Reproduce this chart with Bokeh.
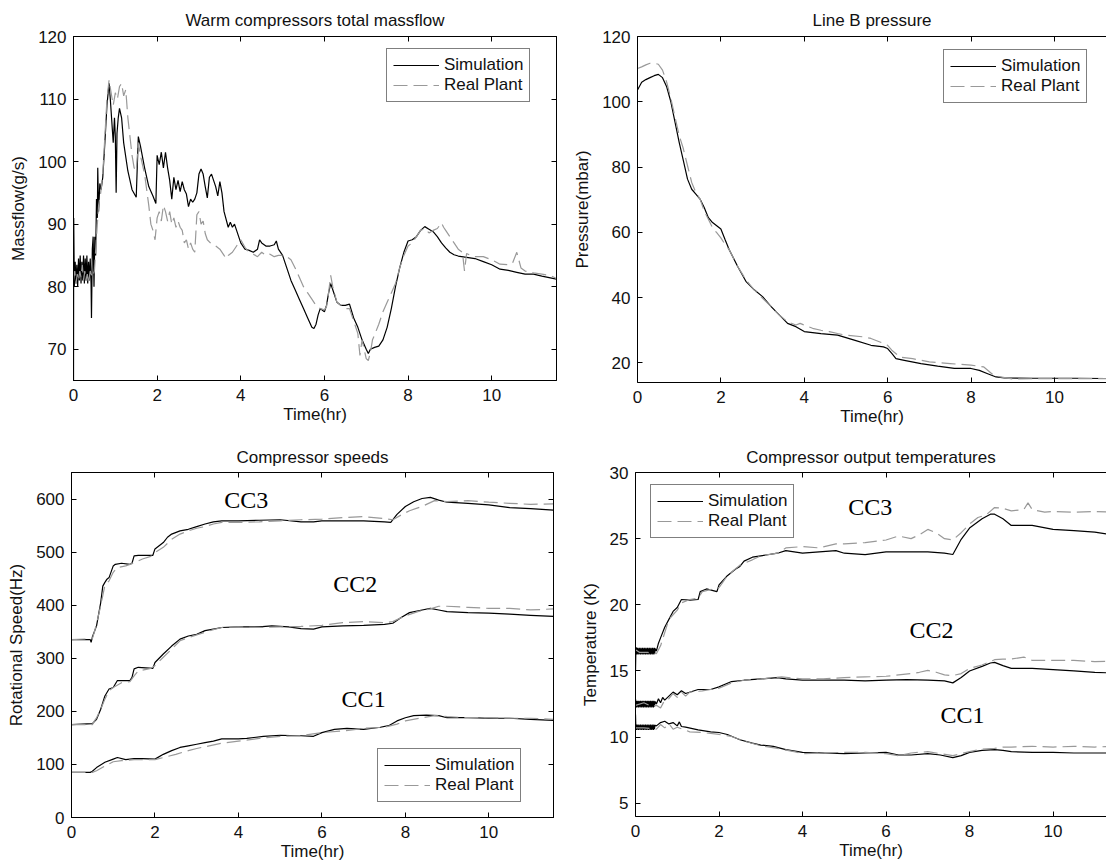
from bokeh.plotting import figure
from bokeh.layouts import row, column
from bokeh.models import Range1d, LinearAxis, Legend, LegendItem, FixedTicker, Label
from bokeh.embed import file_html
from bokeh.resources import INLINE

# ---------------- data (time in hr, value) ----------------
mf_sim = [(0.00, 64.0), (0.005, 91.0), (0.02, 80.0), (0.04, 84.0), (0.06, 80.5), (0.08, 83.5), (0.10, 80.0),
          (0.12, 84.5), (0.14, 81.0), (0.16, 85.0), (0.18, 80.5), (0.20, 84.0), (0.22, 81.0), (0.24, 85.0),
          (0.26, 80.5), (0.28, 84.5), (0.30, 81.0), (0.32, 85.0), (0.34, 80.5), (0.36, 84.0), (0.38, 81.0),
          (0.40, 84.5), (0.42, 80.5), (0.43, 75.0), (0.45, 86.0), (0.47, 88.0), (0.49, 80.0), (0.51, 88.0),
          (0.53, 85.0), (0.55, 94.0), (0.57, 91.0), (0.58, 99.0), (0.60, 92.0), (0.63, 96.5), (0.66, 95.5),
          (0.70, 97.5), (0.75, 103.0), (0.80, 109.0), (0.85, 112.5), (0.88, 110.0), (0.92, 106.0), (0.95, 103.0),
          (0.98, 107.0), (1.00, 104.0), (1.02, 95.0), (1.04, 104.5), (1.07, 107.0), (1.10, 108.5), (1.15, 107.0),
          (1.20, 103.0), (1.30, 98.5), (1.40, 95.5), (1.50, 94.3), (1.55, 104.0), (1.60, 102.5), (1.70, 99.0),
          (1.80, 96.0), (1.90, 94.5), (1.97, 93.3), (2.00, 101.0), (2.05, 99.5), (2.10, 101.5), (2.15, 99.0),
          (2.20, 101.5), (2.25, 99.0), (2.30, 97.0), (2.35, 94.0), (2.40, 97.5), (2.45, 95.5), (2.50, 97.0),
          (2.55, 95.2), (2.60, 96.8), (2.65, 95.5), (2.70, 94.8), (2.75, 92.8), (2.80, 94.0), (2.85, 93.5),
          (2.90, 94.0), (2.95, 95.0), (3.00, 98.0), (3.05, 98.8), (3.10, 98.0), (3.15, 96.0), (3.20, 94.2),
          (3.25, 97.5), (3.30, 98.0), (3.35, 97.0), (3.40, 96.0), (3.45, 94.5), (3.50, 96.8), (3.55, 95.0),
          (3.60, 92.0), (3.70, 89.5), (3.75, 90.3), (3.80, 89.5), (3.85, 90.0), (3.90, 89.0), (4.00, 87.0),
          (4.10, 86.0), (4.20, 85.8), (4.30, 85.5), (4.40, 86.0), (4.45, 87.5), (4.50, 87.0), (4.60, 86.5),
          (4.70, 86.5), (4.80, 86.7), (4.85, 87.3), (4.90, 86.0), (5.00, 85.0), (5.10, 83.0), (5.20, 81.0),
          (5.30, 79.5), (5.40, 78.0), (5.50, 76.5), (5.60, 75.0), (5.70, 73.5), (5.75, 73.3), (5.80, 74.0),
          (5.85, 75.5), (5.90, 76.5), (6.00, 76.0), (6.05, 77.0), (6.10, 79.0), (6.15, 80.5), (6.20, 79.5),
          (6.30, 77.5), (6.40, 77.0), (6.50, 77.0), (6.60, 77.2), (6.70, 75.0), (6.80, 73.5), (6.90, 71.5),
          (7.00, 70.0), (7.05, 69.3), (7.10, 70.0), (7.20, 70.3), (7.30, 70.5), (7.40, 71.5), (7.50, 73.5),
          (7.60, 76.5), (7.70, 80.0), (7.80, 83.0), (7.90, 85.5), (8.00, 87.3), (8.10, 87.5), (8.20, 88.0),
          (8.30, 89.0), (8.40, 89.6), (8.50, 89.2), (8.60, 88.8), (8.70, 88.0), (8.80, 87.0), (8.90, 86.2),
          (9.00, 85.5), (9.10, 85.1), (9.20, 84.9), (9.40, 84.7), (9.60, 84.5), (9.80, 84.0), (10.00, 83.5),
          (10.20, 82.8), (10.40, 82.6), (10.60, 82.3), (10.80, 82.0), (11.00, 82.0), (11.20, 81.7), (11.55, 81.2)]

mf_real = [(0.00, 81.0), (0.03, 82.5), (0.06, 80.5), (0.09, 82.0), (0.12, 81.0), (0.15, 82.5), (0.18, 81.5),
           (0.21, 83.5), (0.24, 81.0), (0.27, 82.5), (0.30, 81.0), (0.33, 82.0), (0.36, 80.5), (0.40, 82.5),
           (0.45, 81.5), (0.50, 82.5), (0.55, 88.0), (0.60, 93.0), (0.65, 95.0), (0.70, 98.0), (0.75, 104.0),
           (0.80, 110.0), (0.85, 113.0), (0.90, 111.0), (0.95, 109.0), (1.00, 111.0), (1.05, 110.0), (1.10, 112.0),
           (1.15, 112.5), (1.20, 110.5), (1.25, 111.5), (1.30, 107.0), (1.35, 104.0), (1.40, 101.0), (1.45, 99.0),
           (1.50, 98.5), (1.55, 103.0), (1.60, 101.0), (1.70, 98.0), (1.80, 93.0), (1.85, 90.0), (1.90, 89.0),
           (1.95, 87.5), (2.00, 91.0), (2.05, 92.0), (2.10, 90.5), (2.15, 93.0), (2.20, 92.0), (2.25, 90.5),
           (2.30, 92.0), (2.35, 90.0), (2.40, 91.0), (2.45, 89.5), (2.50, 90.5), (2.55, 89.5), (2.60, 89.0),
           (2.65, 87.0), (2.70, 87.5), (2.75, 86.0), (2.80, 87.0), (2.85, 86.0), (2.90, 85.5), (2.95, 91.5),
           (3.00, 92.0), (3.05, 90.0), (3.10, 90.5), (3.15, 88.5), (3.20, 87.5), (3.30, 86.8), (3.40, 86.5),
           (3.50, 86.0), (3.60, 85.0), (3.65, 84.5), (3.70, 85.0), (3.80, 85.5), (3.90, 86.5), (4.00, 87.5),
           (4.10, 86.3), (4.20, 85.5), (4.30, 85.2), (4.40, 84.8), (4.50, 85.5), (4.60, 85.0), (4.70, 85.2),
           (4.80, 84.8), (4.90, 85.0), (5.00, 85.0), (5.10, 84.8), (5.20, 84.3), (5.30, 83.0), (5.40, 81.5),
           (5.50, 80.0), (5.60, 79.0), (5.70, 78.0), (5.80, 77.0), (5.90, 76.5), (6.00, 76.3), (6.05, 76.8),
           (6.10, 79.0), (6.15, 81.8), (6.20, 80.0), (6.30, 77.5), (6.40, 77.0), (6.50, 76.5), (6.60, 76.5),
           (6.70, 74.5), (6.80, 72.5), (6.85, 69.0), (6.90, 71.5), (6.95, 70.0), (7.00, 68.5), (7.05, 68.2),
           (7.10, 69.5), (7.15, 71.5), (7.20, 72.3), (7.30, 74.0), (7.40, 76.0), (7.50, 77.5), (7.60, 79.0),
           (7.70, 80.5), (7.80, 83.0), (7.90, 85.0), (8.00, 86.5), (8.10, 87.0), (8.20, 88.0), (8.30, 89.0),
           (8.40, 89.3), (8.50, 88.6), (8.60, 89.0), (8.70, 89.3), (8.80, 90.2), (8.85, 89.5), (8.90, 89.0),
           (9.00, 88.0), (9.10, 87.0), (9.20, 86.0), (9.30, 85.5), (9.35, 82.5), (9.40, 85.3), (9.50, 85.0),
           (9.60, 84.8), (9.80, 84.8), (10.00, 84.3), (10.20, 83.6), (10.40, 83.5), (10.50, 83.8), (10.60, 85.5),
           (10.70, 83.0), (10.80, 82.5), (11.00, 82.2), (11.20, 82.0), (11.40, 81.8), (11.55, 81.3)]

pr_sim = [(0.0, 103.6), (0.1, 106.0), (0.2, 106.8), (0.3, 107.4), (0.4, 108.0), (0.5, 108.4), (0.6, 107.4),
          (0.7, 104.6), (0.8, 100.0), (0.9, 93.8), (1.0, 87.6), (1.1, 82.0), (1.2, 76.3), (1.3, 73.2),
          (1.4, 71.7), (1.5, 70.2), (1.6, 67.6), (1.7, 64.5), (1.8, 63.0), (1.9, 62.0), (2.0, 61.0),
          (2.1, 57.8), (2.2, 54.7), (2.4, 49.6), (2.6, 45.0), (2.8, 42.4), (3.0, 40.3), (3.2, 37.3),
          (3.4, 34.7), (3.6, 32.1), (3.8, 31.1), (4.0, 29.6), (4.4, 29.0), (4.8, 28.5), (5.2, 27.0),
          (5.6, 25.4), (5.9, 24.9), (6.0, 24.4), (6.1, 22.9), (6.2, 21.3), (6.4, 20.8), (6.8, 19.8),
          (7.2, 19.0), (7.6, 18.3), (8.0, 18.3), (8.2, 17.7), (8.4, 16.7), (8.6, 15.7), (8.8, 15.4),
          (9.5, 15.3), (10.5, 15.3), (11.4, 15.2)]

pr_real = [(0.0, 110.2), (0.1, 110.7), (0.2, 111.3), (0.3, 111.8), (0.4, 111.8), (0.5, 111.5), (0.6, 109.7),
           (0.7, 106.0), (0.8, 101.0), (0.9, 95.3), (1.0, 89.7), (1.1, 85.6), (1.2, 80.4), (1.3, 75.3),
           (1.4, 72.2), (1.5, 70.2), (1.6, 66.6), (1.7, 64.0), (1.8, 61.4), (1.9, 59.9), (2.0, 58.3),
           (2.1, 56.3), (2.2, 54.7), (2.4, 49.6), (2.6, 45.5), (2.8, 42.4), (3.0, 39.8), (3.2, 37.3),
           (3.4, 34.7), (3.6, 32.6), (3.8, 31.6), (3.9, 32.1), (4.0, 31.6), (4.2, 30.6), (4.4, 30.0),
           (4.6, 29.6), (4.8, 29.0), (5.0, 28.5), (5.4, 28.0), (5.6, 27.5), (5.8, 26.5), (6.0, 25.4),
           (6.1, 23.9), (6.3, 21.8), (6.6, 21.3), (7.0, 20.3), (7.5, 19.8), (8.0, 19.3), (8.3, 18.8),
           (8.5, 16.7), (8.7, 15.7), (9.0, 15.1), (10.0, 15.2), (11.4, 15.2)]

spd_cc3_sim = [(0.0, 335), (0.45, 335), (0.47, 330), (0.5, 340), (0.6, 361), (0.7, 405), (0.75, 436),
               (0.8, 443), (0.85, 449), (0.9, 452), (1.0, 474), (1.05, 477), (1.2, 479), (1.4, 477),
               (1.45, 479), (1.5, 493), (1.6, 494), (1.8, 494), (1.95, 494), (2.0, 506), (2.1, 512),
               (2.2, 518), (2.3, 528), (2.4, 534), (2.6, 540), (2.8, 543), (3.0, 548), (3.2, 553),
               (3.4, 557), (3.6, 559), (4.0, 559), (4.5, 560), (5.0, 561), (5.5, 557), (5.8, 557),
               (6.0, 559), (6.5, 559), (7.0, 559), (7.5, 557), (7.65, 556), (7.8, 571), (8.0, 586),
               (8.2, 595), (8.4, 601), (8.6, 603), (8.8, 598), (9.0, 594), (9.5, 592), (10.0, 589),
               (10.5, 584), (11.0, 582), (11.55, 579)]
spd_cc3_real = [(0.0, 335), (0.5, 337), (0.55, 350), (0.6, 365), (0.7, 399), (0.8, 437), (0.9, 446),
                (1.0, 462), (1.1, 471), (1.3, 474), (1.4, 477), (1.5, 480), (1.7, 487), (1.9, 492),
                (2.0, 499), (2.2, 509), (2.4, 524), (2.6, 534), (2.8, 540), (3.0, 545), (3.2, 548),
                (3.4, 553), (3.6, 556), (4.0, 556), (4.5, 557), (5.0, 559), (5.5, 561), (6.0, 562),
                (6.5, 565), (7.0, 567), (7.5, 563), (7.7, 561), (7.9, 570), (8.1, 578), (8.4, 586),
                (8.7, 597), (9.0, 595), (9.5, 597), (10.0, 594), (10.5, 592), (11.0, 590), (11.55, 591)]
spd_cc2_sim = [(0.0, 175), (0.5, 177), (0.6, 185), (0.7, 204), (0.8, 229), (0.9, 242), (1.0, 245),
               (1.1, 258), (1.4, 258), (1.45, 264), (1.5, 280), (1.6, 283), (1.95, 281), (2.0, 292),
               (2.2, 308), (2.4, 323), (2.6, 336), (2.8, 342), (3.0, 345), (3.2, 352), (3.4, 355),
               (3.6, 358), (4.0, 359), (4.5, 359), (4.8, 361), (5.2, 359), (5.5, 356), (5.8, 355),
               (6.0, 359), (6.5, 361), (7.0, 362), (7.5, 364), (7.7, 366), (7.9, 377), (8.1, 386),
               (8.4, 391), (8.6, 394), (8.8, 391), (9.0, 388), (9.5, 386), (10.0, 385), (10.5, 383),
               (11.0, 381), (11.55, 379)]
spd_cc2_real = [(0.0, 175), (0.5, 175), (0.55, 182), (0.6, 188), (0.7, 204), (0.8, 223), (0.9, 239),
                (1.0, 245), (1.2, 254), (1.4, 256), (1.5, 267), (1.6, 276), (1.9, 281), (2.0, 286),
                (2.2, 302), (2.4, 317), (2.6, 333), (2.8, 339), (3.0, 344), (3.2, 349), (3.4, 354),
                (3.6, 358), (4.0, 359), (4.5, 358), (5.0, 359), (5.5, 360), (6.0, 362), (6.5, 367),
                (7.0, 369), (7.5, 367), (7.7, 369), (8.0, 380), (8.3, 388), (8.6, 393), (8.8, 398),
                (9.0, 398), (9.5, 396), (10.0, 394), (10.5, 394), (11.0, 391), (11.55, 393)]
spd_cc1_sim = [(0.0, 85), (0.45, 85), (0.5, 87), (0.6, 94), (0.8, 104), (1.0, 110), (1.1, 113),
               (1.3, 109), (1.5, 111), (1.7, 111), (2.0, 110), (2.2, 119), (2.4, 126), (2.6, 132),
               (2.8, 135), (3.0, 138), (3.2, 141), (3.4, 144), (3.6, 148), (4.0, 148), (4.2, 149),
               (4.6, 153), (5.0, 155), (5.5, 154), (5.8, 153), (6.0, 160), (6.3, 166), (6.6, 168),
               (7.0, 166), (7.4, 170), (7.6, 173), (7.8, 182), (8.0, 188), (8.2, 192), (8.5, 193),
               (8.8, 192), (9.0, 188), (9.5, 188), (10.0, 187), (10.5, 187), (11.0, 185), (11.55, 183)]
spd_cc1_real = [(0.0, 85), (0.5, 85), (0.6, 88), (0.8, 97), (1.0, 105), (1.2, 107), (1.5, 109),
                (2.0, 109), (2.2, 113), (2.5, 119), (2.8, 126), (3.0, 130), (3.3, 135), (3.6, 140),
                (4.0, 144), (4.5, 149), (5.0, 153), (5.5, 154), (6.0, 160), (6.5, 163), (7.0, 168),
                (7.5, 170), (7.8, 176), (8.0, 182), (8.4, 188), (8.7, 192), (9.0, 190), (9.5, 188),
                (10.0, 188), (10.5, 187), (11.0, 187), (11.55, 185)]

tmp_cc3_sim = [(0.0, 15.0), (0.01, 16.8), (0.02, 16.25), (0.03, 16.75), (0.04, 16.25), (0.05, 16.75),
               (0.06, 16.3), (0.07, 16.7), (0.08, 16.25), (0.09, 16.75), (0.10, 16.3), (0.11, 16.7),
               (0.12, 16.25), (0.13, 16.75), (0.14, 16.3), (0.15, 16.7), (0.16, 16.25), (0.17, 16.75),
               (0.18, 16.3), (0.19, 16.7), (0.20, 16.25), (0.21, 16.75), (0.22, 16.3), (0.23, 16.7),
               (0.24, 16.25), (0.25, 16.75), (0.26, 16.3), (0.27, 16.7), (0.28, 16.25), (0.29, 16.75),
               (0.30, 16.3), (0.31, 16.7), (0.32, 16.25), (0.33, 16.75), (0.34, 16.3), (0.35, 16.7),
               (0.36, 16.25), (0.37, 16.75), (0.38, 16.3), (0.39, 16.7), (0.40, 16.25), (0.41, 16.75),
               (0.42, 16.3), (0.43, 16.7), (0.44, 16.25), (0.45, 16.75), (0.46, 16.3), (0.47, 16.7),
               (0.5, 16.5), (0.55, 17.1), (0.6, 17.5), (0.7, 18.3),
               (0.8, 18.9), (0.9, 19.5), (1.0, 19.8), (1.1, 20.4), (1.3, 20.35), (1.5, 20.4), (1.55, 21.0),
               (1.7, 21.2), (1.95, 21.0), (2.0, 21.5), (2.2, 22.2), (2.4, 22.7), (2.5, 22.9), (2.6, 23.3),
               (2.8, 23.6), (3.0, 23.7), (3.2, 23.8), (3.4, 23.9), (3.6, 24.1), (4.0, 23.9), (4.4, 24.0),
               (4.8, 24.1), (5.0, 23.9), (5.5, 23.8), (6.0, 24.0), (6.5, 24.0), (7.0, 24.0), (7.4, 23.9),
               (7.6, 23.8), (7.8, 24.95), (8.0, 25.8), (8.3, 26.5), (8.5, 26.85), (8.6, 26.85), (8.8, 26.5),
               (9.0, 26.0), (9.5, 26.0), (10.0, 25.7), (10.5, 25.6), (11.0, 25.5), (11.4, 25.3)]
tmp_cc3_real = [(0.0, 16.6), (0.1, 16.4), (0.3, 16.4), (0.5, 16.3), (0.6, 16.9), (0.7, 17.9), (0.8, 18.9),
                (1.0, 19.6), (1.1, 20.15), (1.3, 20.4), (1.5, 20.5), (1.6, 21.0), (2.0, 21.3), (2.2, 22.2),
                (2.5, 23.0), (2.8, 23.4), (3.0, 23.7), (3.4, 23.9), (3.6, 24.3), (4.0, 24.4), (4.4, 24.3),
                (4.8, 24.6), (5.0, 24.6), (5.5, 24.7), (6.0, 24.9), (6.3, 25.2), (6.6, 25.0), (6.8, 25.3),
                (7.0, 25.7), (7.2, 25.45), (7.4, 25.0), (7.6, 24.9), (7.8, 25.45), (8.0, 26.1), (8.2, 26.6),
                (8.4, 26.8), (8.6, 27.35), (8.8, 27.3), (9.0, 27.1), (9.3, 27.2), (9.4, 27.7), (9.5, 27.2),
                (9.8, 27.0), (10.0, 27.05), (10.5, 27.0), (11.0, 27.05), (11.4, 27.0)]
tmp_cc2_sim = [(0.0, 12.9), (0.01, 12.25), (0.02, 12.75), (0.03, 12.25), (0.04, 12.75), (0.05, 12.3),
               (0.06, 12.7), (0.07, 12.25), (0.08, 12.75), (0.09, 12.3), (0.10, 12.7), (0.11, 12.25),
               (0.12, 12.75), (0.13, 12.3), (0.14, 12.7), (0.15, 12.25), (0.16, 12.75), (0.17, 12.3),
               (0.18, 12.7), (0.19, 12.25), (0.20, 12.75), (0.21, 12.3), (0.22, 12.7), (0.23, 12.25),
               (0.24, 12.75), (0.25, 12.3), (0.26, 12.7), (0.27, 12.25), (0.28, 12.75), (0.29, 12.3),
               (0.30, 12.7), (0.31, 12.25), (0.32, 12.75), (0.33, 12.3), (0.34, 12.7), (0.35, 12.25),
               (0.36, 12.75), (0.37, 12.3), (0.38, 12.7), (0.39, 12.25), (0.40, 12.75), (0.41, 12.3),
               (0.42, 12.7), (0.43, 12.25), (0.44, 12.75), (0.45, 12.3), (0.47, 12.7), (0.5, 12.5),
               (0.55, 12.9), (0.6, 12.6), (0.65, 13.0), (0.7, 12.8), (0.8, 13.1), (0.9, 13.4), (1.0, 13.2),
               (1.1, 13.5), (1.2, 13.3), (1.5, 13.6), (1.8, 13.6), (2.0, 13.8),
               (2.3, 14.2), (2.6, 14.3), (3.0, 14.4), (3.4, 14.5), (3.6, 14.4), (4.0, 14.3), (4.5, 14.3),
               (5.0, 14.3), (5.5, 14.25), (6.0, 14.3), (6.5, 14.35), (7.0, 14.3), (7.4, 14.25), (7.6, 14.1),
               (7.8, 14.5), (8.0, 15.0), (8.3, 15.35), (8.5, 15.6), (8.6, 15.65), (8.8, 15.4), (9.0, 15.2),
               (9.5, 15.2), (10.0, 15.1), (10.5, 15.0), (11.0, 14.9), (11.4, 14.85)]
tmp_cc2_real = [(0.0, 12.4), (0.2, 12.6), (0.4, 12.3), (0.5, 12.4), (0.6, 12.2), (0.7, 12.8), (0.8, 12.9),
                (0.9, 13.3), (1.0, 13.0), (1.1, 13.4), (1.2, 13.1), (1.3, 13.4),
                (1.6, 13.5), (2.0, 13.7), (2.3, 14.1), (2.6, 14.3), (3.0, 14.4), (3.5, 14.55), (4.0, 14.4),
                (4.5, 14.4), (5.0, 14.5), (5.5, 14.55), (6.0, 14.6), (6.3, 14.7), (6.6, 14.8), (6.8, 14.9),
                (7.0, 15.05), (7.2, 14.9), (7.4, 14.7), (7.6, 14.65), (7.8, 14.8), (8.0, 15.2), (8.3, 15.45),
                (8.6, 15.85), (8.8, 15.9), (9.0, 15.9), (9.3, 16.05), (9.5, 15.8), (10.0, 15.8), (10.5, 15.8),
                (11.0, 15.7), (11.4, 15.75)]
tmp_cc1_sim = [(0.0, 11.7), (0.01, 10.55), (0.02, 10.95), (0.03, 10.55), (0.04, 10.95), (0.05, 10.6),
               (0.06, 10.9), (0.07, 10.55), (0.08, 10.95), (0.09, 10.6), (0.10, 10.9), (0.11, 10.55),
               (0.12, 10.95), (0.13, 10.6), (0.14, 10.9), (0.15, 10.55), (0.16, 10.95), (0.17, 10.6),
               (0.18, 10.9), (0.19, 10.55), (0.20, 10.95), (0.21, 10.6), (0.22, 10.9), (0.23, 10.55),
               (0.24, 10.95), (0.25, 10.6), (0.26, 10.9), (0.27, 10.55), (0.28, 10.95), (0.29, 10.6),
               (0.30, 10.9), (0.31, 10.55), (0.32, 10.95), (0.33, 10.6), (0.34, 10.9), (0.35, 10.55),
               (0.36, 10.95), (0.37, 10.6), (0.38, 10.9), (0.39, 10.55), (0.40, 10.95), (0.41, 10.6),
               (0.42, 10.9), (0.43, 10.55), (0.44, 10.95), (0.45, 10.6), (0.47, 10.9), (0.5, 10.85),
               (0.6, 11.1), (0.7, 11.2), (0.8, 11.0), (0.9, 11.1), (1.0, 10.85), (1.05, 11.15), (1.1, 10.8),
               (1.2, 10.75), (1.5, 10.55), (1.8, 10.4), (2.0, 10.35),
               (2.2, 10.2), (2.5, 9.8), (2.8, 9.55), (3.0, 9.4), (3.3, 9.3), (3.6, 9.05), (4.0, 8.85),
               (4.5, 8.8), (5.0, 8.75), (5.5, 8.8), (6.0, 8.85), (6.3, 8.65), (6.6, 8.65), (7.0, 8.75),
               (7.3, 8.65), (7.6, 8.45), (7.8, 8.6), (8.0, 8.85), (8.3, 9.0), (8.6, 9.05), (8.8, 9.0),
               (9.0, 8.9), (9.5, 8.85), (10.0, 8.85), (10.5, 8.8), (11.0, 8.8), (11.4, 8.8)]
tmp_cc1_real = [(0.0, 10.7), (0.2, 10.7), (0.5, 10.6), (0.6, 10.95), (0.7, 10.7), (0.8, 11.0), (0.9, 10.6),
                (1.0, 10.75), (1.3, 10.4), (1.6, 10.35),
                (2.0, 10.2), (2.3, 10.05), (2.6, 9.7), (3.0, 9.35), (3.4, 9.15), (3.8, 8.9), (4.0, 8.75),
                (4.5, 8.8), (5.0, 8.85), (5.5, 8.85), (6.0, 8.75), (6.3, 8.6), (6.6, 8.8), (7.0, 8.9),
                (7.3, 8.75), (7.6, 8.6), (7.8, 8.75), (8.0, 8.9), (8.3, 9.1), (8.6, 9.15), (8.8, 9.25),
                (9.0, 9.25), (9.5, 9.3), (10.0, 9.25), (10.5, 9.3), (11.0, 9.25), (11.4, 9.3)]

x_ticks = [0, 2, 4, 6, 8, 10]
mf_yticks = [70, 80, 90, 100, 110, 120]
pr_yticks = [20, 40, 60, 80, 100, 120]
spd_yticks = [0, 100, 200, 300, 400, 500, 600]
tmp_yticks = [5, 10, 15, 20, 25, 30]

SANS = "Liberation Sans"
SERIF = "Liberation Serif"
SIM_COLOR = "black"
REAL_COLOR = "#999999"
REAL_DASH = "14 6"


def style_axis(ax, ticks, labels=True):
    ax.axis_line_color = "black"
    ax.axis_line_width = 1
    ax.major_tick_line_color = "black"
    ax.major_tick_in = 5
    ax.major_tick_out = 0
    ax.minor_tick_line_color = None
    ax.major_label_text_font = SANS
    ax.major_label_text_color = "#111111"
    ax.axis_label_text_font = SANS
    ax.axis_label_text_font_size = "17px"
    ax.axis_label_text_font_style = "normal"
    ax.axis_label_text_color = "#111111"
    if labels:
        ax.major_label_text_font_size = "17px"
    else:
        ax.major_label_overrides = {t: "" for t in ticks}
        ax.major_label_text_font_size = "1px"
        ax.major_label_standoff = 0


def make_fig(title, ylabel, xr, yr, yticks, fw, fh, bl, br, bt, bb, boxed, tstand):
    p = figure(frame_width=fw, frame_height=fh, min_border_left=bl, min_border_right=br,
               min_border_top=bt, min_border_bottom=bb, x_range=Range1d(*xr), y_range=Range1d(*yr),
               output_backend="svg", toolbar_location=None, title=title)
    p.title.align = "center"
    p.title.text_font = SANS
    p.title.text_font_size = "17px"
    p.title.text_font_style = "normal"
    p.title.text_color = "#111111"
    p.title.standoff = tstand
    p.xgrid.visible = False
    p.ygrid.visible = False
    p.outline_line_color = "black" if boxed else None
    p.background_fill_color = "white"
    p.border_fill_color = "white"
    p.xaxis.ticker = FixedTicker(ticks=x_ticks)
    p.yaxis.ticker = FixedTicker(ticks=yticks)
    p.xaxis.axis_label = "Time(hr)"
    p.yaxis.axis_label = ylabel
    for ax in p.xaxis:
        style_axis(ax, x_ticks)
        ax.major_label_standoff = 8
        ax.axis_label_standoff = 1
    for ax in p.yaxis:
        style_axis(ax, yticks)
        ax.major_label_standoff = 7
        ax.axis_label_standoff = 7
    top = LinearAxis(ticker=FixedTicker(ticks=x_ticks))
    style_axis(top, x_ticks, labels=False)
    p.add_layout(top, "above")
    if boxed:
        right = LinearAxis(ticker=FixedTicker(ticks=yticks))
        style_axis(right, yticks, labels=False)
        p.add_layout(right, "right")
    return p


def draw_pair(p, sim, real):
    rs = p.line([a for a, b in sim], [b for a, b in sim], line_color=SIM_COLOR, line_width=1.2)
    rr = p.line([a for a, b in real], [b for a, b in real], line_color=REAL_COLOR, line_width=1.2,
                line_dash=REAL_DASH)
    return rs, rr


def add_legend(p, rs, rr, loc):
    lg = Legend(items=[LegendItem(label="Simulation", renderers=[rs]),
                       LegendItem(label="Real Plant", renderers=[rr])],
                location=loc, orientation="vertical")
    lg.label_text_font = SANS
    lg.label_text_font_size = "17px"
    lg.label_text_color = "#111111"
    lg.border_line_color = "black"
    lg.border_line_width = 1
    lg.background_fill_color = "white"
    lg.background_fill_alpha = 1
    lg.glyph_width = 46
    lg.glyph_height = 20
    lg.label_height = 20
    lg.label_standoff = 5
    lg.padding = 6
    lg.spacing = 0
    lg.margin = 0
    p.add_layout(lg)


def cc_label(p, x, y, text):
    p.add_layout(Label(x=x, y=y, text=text, text_font=SERIF, text_font_size="24px",
                       text_align="center", text_baseline="middle", text_color="black"))


# Top-left: massflow
p1 = make_fig("Warm compressors total massflow", "Massflow(g/s)", (0, 11.55), (65, 120), mf_yticks,
              483, 344, 73, 4, 36, 45, True, 14)
r1s, r1r = draw_pair(p1, mf_sim, mf_real)
add_legend(p1, r1s, r1r, (313, 278))

# Top-right: pressure
p2 = make_fig("Line B pressure", "Pressure(mbar)", (0, 11.25), (14, 120), pr_yticks,
              469, 346, 77, 0, 34, 45, False, 13)
r2s, r2r = draw_pair(p2, pr_sim, pr_real)
add_legend(p2, r2s, r2r, (306, 279))

# Bottom-left: speeds
p3 = make_fig("Compressor speeds", "Rotational Speed(Hz)", (0, 11.55), (0, 650), spd_yticks,
              482, 345, 71, 7, 46, 44, True, 11)
r3s, r3r = draw_pair(p3, spd_cc3_sim, spd_cc3_real)
draw_pair(p3, spd_cc2_sim, spd_cc2_real)
draw_pair(p3, spd_cc1_sim, spd_cc1_real)
add_legend(p3, r3s, r3r, (306, 15))
cc_label(p3, 4.19, 599, "CC3")
cc_label(p3, 6.8, 440, "CC2")
cc_label(p3, 7.0, 223, "CC1")

# Bottom-right: temperatures
p4 = make_fig("Compressor output temperatures", "Temperature (K)", (0, 11.28), (4, 30), tmp_yticks,
              471, 344, 75, 0, 45, 46, False, 11)
r4s, r4r = draw_pair(p4, tmp_cc3_sim, tmp_cc3_real)
draw_pair(p4, tmp_cc2_sim, tmp_cc2_real)
draw_pair(p4, tmp_cc1_sim, tmp_cc1_real)
add_legend(p4, r4s, r4r, (15, 278))
cc_label(p4, 5.62, 27.4, "CC3")
cc_label(p4, 7.09, 18.07, "CC2")
cc_label(p4, 7.83, 11.65, "CC1")

layout = column(row(p1, p2), row(p3, p4))
open("out.html", "w").write(file_html(layout, INLINE))
